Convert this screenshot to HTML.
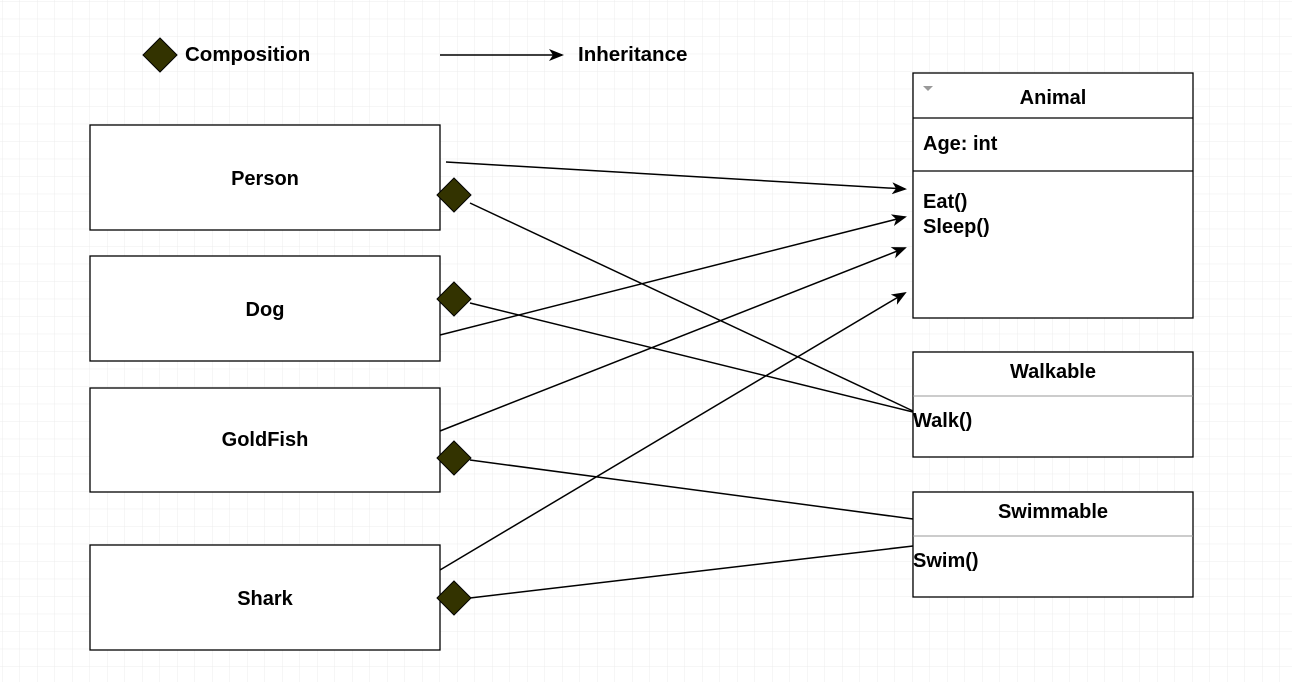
<!DOCTYPE html>
<html><head><meta charset="utf-8"><style>
html,body{margin:0;padding:0;background:#fff;}
svg{display:block;}
text{font-family:"Liberation Sans",Arial,sans-serif;font-weight:bold;fill:#000;}
</style></head><body>
<svg width="1292" height="682" viewBox="0 0 1292 682" xmlns="http://www.w3.org/2000/svg">
<defs>
<pattern id="g" x="2.5" y="1.7" width="17.5" height="17.5" patternUnits="userSpaceOnUse">
<path d="M17.5 0V17.5M0 17.5H17.5" stroke="#ececec" stroke-width="1" fill="none"/>
</pattern>
<marker id="a" markerWidth="15" markerHeight="12" refX="13" refY="6" orient="auto" markerUnits="userSpaceOnUse">
<path d="M0,0 L15,6 L0,12 L4,6 Z" fill="#000"/>
</marker>
</defs>
<rect width="1292" height="682" fill="url(#g)"/>

<polygon points="160,38 177,55 160,72 143,55" fill="#333300" stroke="#000"/>
<text x="185" y="61" font-size="20.5">Composition</text>
<line x1="440" y1="55" x2="562" y2="55" stroke="#000" stroke-width="1.5" marker-end="url(#a)"/>
<text x="578" y="61" font-size="20.5">Inheritance</text>

<g fill="#fff" stroke="#000" stroke-width="1.3">
<rect x="90" y="125" width="350" height="105"/>
<rect x="90" y="256" width="350" height="105"/>
<rect x="90" y="388" width="350" height="104"/>
<rect x="90" y="545" width="350" height="105"/>
</g>
<g font-size="20" text-anchor="middle">
<text x="265" y="185">Person</text>
<text x="265" y="316">Dog</text>
<text x="265" y="446">GoldFish</text>
<text x="265" y="605">Shark</text>
</g>

<g fill="#fff" stroke="#000" stroke-width="1.3">
<rect x="913" y="73" width="280" height="245"/>
<line x1="913" y1="118" x2="1193" y2="118"/>
<line x1="913" y1="171" x2="1193" y2="171"/>
<rect x="913" y="352" width="280" height="105"/>
<rect x="913" y="492" width="280" height="105"/>
</g>
<line x1="913" y1="396" x2="1193" y2="396" stroke="#999"/>
<line x1="913" y1="536" x2="1193" y2="536" stroke="#999"/>
<polygon points="923,86 933,86 928,91" fill="#999"/>
<text x="1053" y="104" font-size="20" text-anchor="middle">Animal</text>
<text x="923" y="150" font-size="20">Age: int</text>
<text x="923" y="208" font-size="20">Eat()</text>
<text x="923" y="233" font-size="20">Sleep()</text>
<text x="1053" y="378" font-size="20" text-anchor="middle">Walkable</text>
<text x="913" y="427" font-size="20">Walk()</text>
<text x="1053" y="518" font-size="20" text-anchor="middle">Swimmable</text>
<text x="913" y="567" font-size="20">Swim()</text>

<g stroke="#000" stroke-width="1.5" fill="none">
<line x1="446" y1="162" x2="905" y2="189" marker-end="url(#a)"/>
<line x1="440" y1="335" x2="905" y2="217" marker-end="url(#a)"/>
<line x1="440" y1="431" x2="905" y2="248" marker-end="url(#a)"/>
<line x1="440" y1="570" x2="905" y2="293" marker-end="url(#a)"/>
<line x1="470" y1="203" x2="913" y2="411"/>
<line x1="470" y1="303" x2="913" y2="412"/>
<line x1="470" y1="460" x2="913" y2="519"/>
<line x1="470" y1="598" x2="913" y2="546"/>
</g>
<g fill="#333300" stroke="#000">
<polygon points="454,178 471,195 454,212 437,195"/>
<polygon points="454,282 471,299 454,316 437,299"/>
<polygon points="454,441 471,458 454,475 437,458"/>
<polygon points="454,581 471,598 454,615 437,598"/>
</g>
</svg>
</body></html>
